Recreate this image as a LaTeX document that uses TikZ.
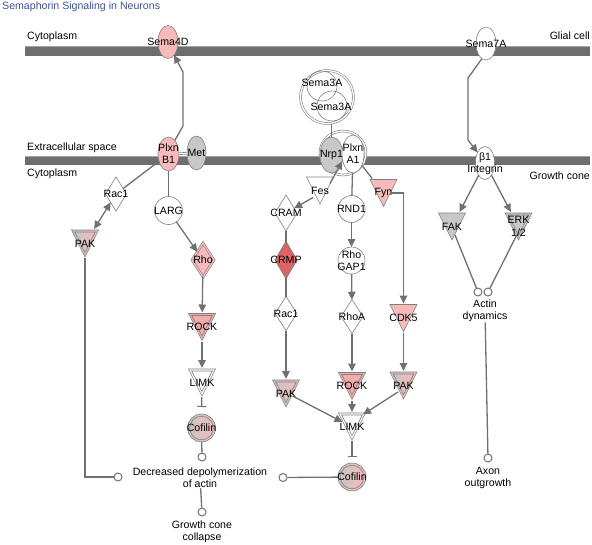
\documentclass[tikz,border=0pt]{standalone}
\usepackage{fontspec}
\setmainfont{Liberation Sans}
\usetikzlibrary{shapes.geometric,arrows.meta}
\definecolor{edgec}{RGB}{128,128,128}
\definecolor{linec}{RGB}{112,112,112}
\definecolor{pinkc}{RGB}{246,186,186}
\definecolor{pinkd}{RGB}{243,172,172}
\definecolor{redc}{RGB}{228,98,98}
\definecolor{grayc}{RGB}{200,200,200}
\definecolor{grayg}{RGB}{198,198,198}
\definecolor{barc}{RGB}{110,110,110}
\definecolor{barl}{RGB}{165,165,165}
\definecolor{titlec}{RGB}{62,82,160}
\begin{document}
\begin{tikzpicture}[x=1pt,y=-1pt,
  lbl/.style={inner sep=0pt, align=center, font=\fontsize{10.6}{12.3}\selectfont},
  shp/.style={draw=edgec, line width=0.6pt, inner sep=0pt, outer sep=0pt},
  tri/.style={rectangle, inner sep=0pt, outer sep=0pt, minimum width=29pt, minimum height=29pt,
    path picture={\path[draw=edgec, line width=0.6pt, #1]
      ([shift={(-13.5pt,13.5pt)}]path picture bounding box.center) --
      ([shift={(13.5pt,13.5pt)}]path picture bounding box.center) --
      ([shift={(0pt,-13.5pt)}]path picture bounding box.center) -- cycle;}},
  trid/.style={rectangle, inner sep=0pt, outer sep=0pt, minimum width=29pt, minimum height=29pt,
    path picture={\path[draw=edgec, line width=0.6pt, #1]
      ([shift={(-13.5pt,13.5pt)}]path picture bounding box.center) --
      ([shift={(13.5pt,13.5pt)}]path picture bounding box.center) --
      ([shift={(0pt,-13.5pt)}]path picture bounding box.center) -- cycle;
      \draw[edgec, line width=0.6pt]
      ([shift={(-10.3pt,11.5pt)}]path picture bounding box.center) --
      ([shift={(10.3pt,11.5pt)}]path picture bounding box.center) --
      ([shift={(0pt,-9pt)}]path picture bounding box.center) -- cycle;}},
  cof/.style={shp, circle, minimum size=28pt, left color=grayg, right color=pinkc,
    path picture={\draw[edgec, line width=0.6pt] (path picture bounding box.center) circle[radius=11.8pt];}},
  dbl/.style={double=#1, double distance=1.3pt},
  sc/.style={circle, draw=linec, line width=1pt, fill=white, minimum size=8pt, inner sep=0pt},
  ln/.style={draw=linec, line width=1.3pt},
  arr/.style={ln, -{Triangle[length=8pt,width=7.5pt]}},
  darr/.style={ln, {Triangle[length=8pt,width=7.5pt]}-{Triangle[length=8pt,width=7.5pt]}},
  inh/.style={ln, -{Bar[width=9pt,line width=1pt]}, shorten >=#1},
]
\useasboundingbox (0,0) rectangle (592,544);

% membranes
\fill[barc] (25,46) rectangle (590,55.5);
\draw[barl, line width=0.8pt] (25,46.4) -- (590,46.4);
\fill[barc] (25,156) rectangle (590,165);
\draw[barl, line width=0.8pt] (25,156.4) -- (590,156.4);

% texts
\node[lbl, anchor=west, text=titlec] (title) at (2,7) {Semaphorin Signaling in Neurons};
\node[lbl, anchor=west] (cyto1) at (27,37) {Cytoplasm};
\node[lbl, anchor=east] (glial) at (590,36) {Glial cell};
\node[lbl, anchor=west] (extra) at (27,148) {Extracellular space};
\node[lbl, anchor=west] (cyto2) at (27,174) {Cytoplasm};
\node[lbl, anchor=east] (gcone) at (590,176) {Growth cone};

% left branch
\node[shp, ellipse, minimum width=20pt, minimum height=33pt, fill=pinkc] (sema4d) at (168,42) {};
\node[lbl] at (sema4d) {Sema4D};
\node[shp, ellipse, minimum width=21pt, minimum height=34pt, fill=pinkc] (plxnb1) at (168.5,154) {};
\node[lbl] at (plxnb1) {Plxn\\B1};
\node[shp, ellipse, minimum width=19pt, minimum height=34pt, fill=grayc] (met) at (196.5,153) {};
\node[lbl] at (met) {Met};
\node[shp, diamond, minimum width=21pt, minimum height=34pt, fill=white] (rac1l) at (116,194) {};
\node[lbl] at (rac1l) {Rac1};
\node[trid={left color=grayg, right color=pinkc}] (pakl) at (85,243.5) {};
\node[lbl] at (pakl) {PAK};
\node[shp, circle, minimum size=28pt, fill=white] (larg) at (168.5,210.5) {};
\node[lbl] at (larg) {LARG};
\node[shp, diamond, minimum width=22pt, minimum height=34pt, fill=pinkc, dbl=pinkc] (rho) at (203,260) {};
\node[lbl] at (rho) {Rho};
\node[trid={fill=pinkd}] (rockl) at (202,327) {};
\node[lbl] at (rockl) {ROCK};
\node[trid={fill=white}] (limkl) at (202,382.5) {};
\node[lbl] at (limkl) {LIMK};
\node[cof] (cofl) at (201.5,428) {};
\node[lbl] at (cofl) {Cofilin};
\node[sc] (c1) at (202,457) {};
\node[lbl] (decr) at (200,478) {Decreased depolymerization\\of actin};
\node[sc] (c2) at (202,512) {};
\node[lbl] (gcc) at (202,532) {Growth cone\\collapse};
\node[sc] (c0) at (118,477) {};

% middle branch
\node[shp, circle, minimum size=53pt, fill=white, dbl=white] (s3out) at (327,97) {};
\node[shp, circle, minimum size=30pt] (s3a) at (322,86) {};
\node[shp, circle, minimum size=30pt] (s3b) at (332,106) {};
\node[lbl] at (322,83) {Sema3A};
\node[lbl] at (331,107) {Sema3A};
\node[shp, ellipse, minimum width=46pt, minimum height=44pt, fill=white, dbl=white] (cplx) at (343,153) {};
\node[shp, ellipse, minimum width=23pt, minimum height=36pt, fill=grayc] (nrp1) at (331.5,155) {};
\node[shp, ellipse, minimum width=22pt, minimum height=38pt, fill=white] (plxna1) at (353,154) {};
\node[lbl] at (nrp1) {Nrp1};
\node[lbl] at (plxna1) {Plxn\\A1};
\node[tri={fill=white}] (fes) at (320,190.5) {};
\node[lbl] at (fes) {Fes};
\node[shp, diamond, minimum width=22pt, minimum height=36pt, fill=white] (cram) at (286,213) {};
\node[lbl] at (cram) {CRAM};
\node[shp, diamond, minimum width=20pt, minimum height=34pt, fill=redc, dbl=redc] (crmp) at (286,260) {};
\node[lbl] at (crmp) {CRMP};
\node[shp, diamond, minimum width=22pt, minimum height=34pt, fill=white] (rac1m) at (286,313.5) {};
\node[lbl] at (rac1m) {Rac1};
\node[trid={left color=grayg, right color=pinkc}] (pakm) at (286,393.5) {};
\node[lbl] at (pakm) {PAK};
\node[shp, circle, minimum size=27pt, fill=white] (rnd1) at (351.5,209) {};
\node[lbl] at (rnd1) {RND1};
\node[shp, circle, minimum size=27pt, fill=white] (rhogap1) at (351.5,260.5) {};
\node[lbl] at (rhogap1) {Rho\\GAP1};
\node[shp, diamond, minimum width=22pt, minimum height=34pt, fill=white] (rhoa) at (352,316.5) {};
\node[lbl] at (rhoa) {RhoA};
\node[trid={fill=pinkd}] (rockm) at (352,386) {};
\node[lbl] at (rockm) {ROCK};
\node[trid={fill=white}] (limkm) at (352,426.5) {};
\node[lbl] at (limkm) {LIMK};
\node[cof] (cofr) at (352,477) {};
\node[lbl] at (cofr) {Cofilin};
\node[sc] (c3) at (283,477.5) {};
\node[tri={fill=pinkc}] (fyn) at (383.5,193) {};
\node[lbl] at (fyn) {Fyn};
\node[tri={fill=pinkc}] (cdk5) at (403.5,318) {};
\node[lbl] at (cdk5) {CDK5};
\node[trid={left color=grayg, right color=pinkc}] (pakr) at (403.5,385.5) {};
\node[lbl] at (pakr) {PAK};

% right branch
\node[shp, ellipse, minimum width=20pt, minimum height=33pt, fill=white] (sema7a) at (486,43.5) {};
\node[lbl] at (sema7a) {Sema7A};
\node[shp, ellipse, minimum width=19pt, minimum height=33pt, fill=white] (integrin) at (485,163) {};
\node[lbl] at (485,164) {β1\\Integrin};
\node[tri={fill=grayc}] (fak) at (452,226.5) {};
\node[lbl] at (fak) {FAK};
\node[trid={fill=grayc}] (erk) at (518.5,226.5) {};
\node[lbl] at (erk) {ERK\\1/2};
\node[sc] (ca1) at (478,292) {};
\node[sc] (ca2) at (488,292) {};
\node[lbl] (actin) at (485,311) {Actin\\dynamics};
\node[sc] (ca3) at (488,458) {};
\node[lbl] (axon) at (488,478) {Axon\\outgrowth};

% connectors left
\draw[arr] (plxnb1.65) -- (183,126) -- (183,72) -- (sema4d.-65);
\draw[draw=edgec, line width=0.6pt, double=white, double distance=1.3pt] (plxnb1) -- (met);
\draw[ln] (plxnb1) -- (rac1l);
\draw[darr] (rac1l) -- (pakl);
\draw[ln] (plxnb1) -- (larg);
\draw[arr] (larg) -- (rho);
\draw[arr] (rho) -- (rockl);
\draw[arr] (rockl) -- (limkl);
\draw[inh=7pt] (limkl) -- (cofl);
\draw[ln] (cofl) -- (c1);
\draw[ln] (pakl.south) |- (c0);
\draw[ln] (decr) -- (c2);
\draw[ln] (cofr) -- (c3);

% connectors middle
\draw[ln] (nrp1.north) -- (nrp1.north |- s3out.south);
\draw[arr] ([shift={(10pt,7pt)}]fes.center) -- (nrp1.-30);
\draw[arr] ([shift={(-7pt,-7pt)}]fes.center) -- (cram);
\draw[ln] (cram) -- (crmp);
\draw[ln] (crmp) -- (rac1m);
\draw[arr] (rac1m) -- (pakm);
\draw[ln] (plxna1) -- (rnd1);
\draw[arr] (rnd1) -- (rhogap1);
\draw[arr] (rhogap1) -- (rhoa);
\draw[arr] (rhoa) -- (rockm);
\draw[arr] (rockm) -- (limkm);
\draw[ln] (plxna1) -- (fyn);
\draw[arr] ([shift={(6pt,0pt)}]fyn.center) -| (cdk5.north);
\draw[arr] (cdk5) -- (pakr);
\draw[arr] ([shift={(6.5pt,-2.5pt)}]pakm.center) -- ([shift={(-9.5pt,4.5pt)}]limkm.center);
\draw[arr] ([shift={(-5.5pt,-6.5pt)}]pakr.center) -- ([shift={(11pt,12pt)}]limkm.center);
\draw[inh=6.5pt] (limkm) -- (cofr);

% connectors right
\draw[arr] (sema7a.-105) -- (468,78) -- (468,140) -- (integrin.125);
\draw[arr] (integrin) -- (fak);
\draw[arr] (integrin) -- (erk);
\draw[ln] ([shift={(3pt,-8.5pt)}]fak.center) -- (ca1);
\draw[ln] ([shift={(-2pt,-9pt)}]erk.center) -- (ca2);
\draw[ln] (actin) -- (ca3);
\end{tikzpicture}
\end{document}
